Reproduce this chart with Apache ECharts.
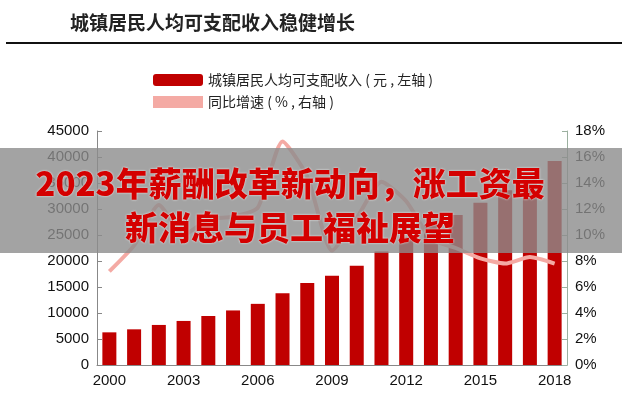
<!DOCTYPE html><html><head><meta charset="utf-8"><script src="https://cdn.jsdelivr.net/npm/echarts@6/dist/echarts.min.js"></script>
<style>body{margin:0;background:#fff}#c{width:622px;height:402px;position:relative}
#t{position:absolute;left:70px;top:8px;font:bold 19px "Noto Sans CJK SC";color:#222}
#hr{position:absolute;left:6px;right:0;top:42px;height:2px;background:#111}
#b{position:absolute;left:0;right:0;top:148px;height:105px;background:rgba(140,140,140,0.8)}
#bt{position:absolute;left:-20px;width:620px;top:12px;text-align:center;font:900 33px/44px "Noto Sans CJK SC";color:#d40000;white-space:nowrap;text-shadow:0 0 2px #fff}</style></head><body>
<div id="c"><div id="m" style="width:622px;height:402px"></div><div id="t">城镇居民人均可支配收入稳健增长</div><div id="hr"></div><div id="b"><div id="bt">2023年薪酬改革新动向，涨工资最<br>新消息与员工福祉展望</div></div></div>
<script>
const years=['2000','2001','2002','2003','2004','2005','2006','2007','2008','2009','2010','2011','2012','2013','2014','2015','2016','2017','2018'];
const income=[6280,6860,7703,8472,9422,10493,11759,13786,15781,17175,19109,21810,24565,26955,28844,31195,33616,36396,39251];
const growth=[7.2,9.2,12.3,10.0,11.2,11.4,12.1,17.2,14.5,8.8,11.3,14.1,12.6,9.7,9.0,8.2,7.8,8.3,7.8];
const f='"Noto Sans CJK SC"';
echarts.init(document.getElementById('m')).setOption({animation:false,
legend:{orient:'vertical',left:148,top:68,itemGap:8,itemWidth:50,itemHeight:12,textStyle:{fontFamily:f,fontSize:14,color:'#222'},
 data:[{name:'城镇居民人均可支配收入 ( 元 , 左轴 )'},{name:'同比增速 ( % , 右轴 )',icon:'rect',itemStyle:{color:'#f4aaa4'}}]},
grid:{left:97,right:55,top:131,bottom:37},
xAxis:{type:'category',data:years,axisLine:{lineStyle:{color:'#888'}},axisTick:{show:false},
 axisLabel:{interval:2,color:'#111',fontSize:15,fontFamily:'Liberation Sans'}},
yAxis:[{type:'value',min:0,max:45000,interval:5000,splitLine:{show:false},axisLine:{show:true,lineStyle:{color:'#888'}},axisTick:{show:true,inside:true},axisLabel:{formatter:v=>String(v),color:'#111',fontSize:15,fontFamily:'Liberation Sans'}},
 {type:'value',min:0,max:18,interval:2,splitLine:{show:false},axisLine:{show:true,lineStyle:{color:'#9cb0a0'}},axisTick:{show:true,inside:true},axisLabel:{formatter:'{value}%',color:'#111',fontSize:15,fontFamily:'Liberation Sans'}}],
series:[{name:'城镇居民人均可支配收入 ( 元 , 左轴 )',type:'bar',data:income,barWidth:14,itemStyle:{color:'#c00000'}},
 {name:'同比增速 ( % , 右轴 )',type:'line',yAxisIndex:1,data:growth,symbol:'none',smooth:0.2,lineStyle:{color:'#f4aaa4',width:4},itemStyle:{color:'#f4aaa4'}}]});
</script></body></html>
